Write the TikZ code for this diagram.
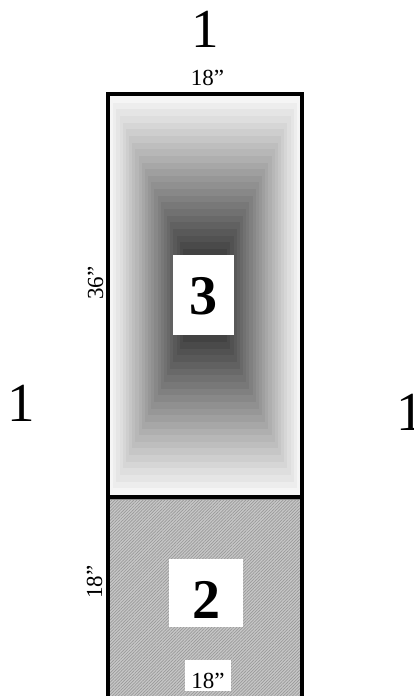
\documentclass[tikz,border=0pt]{standalone}
\usepackage{fontspec}
\setmainfont{Liberation Serif}
\usepackage{tikz}
\usetikzlibrary{patterns.meta}

\begin{document}
\begin{tikzpicture}[x=1pt, y=-1pt,
  frame/.style={line width=3.8pt, black},
  side/.style={anchor=base, inner sep=0pt, font=\fontsize{55}{60}\selectfont},
  dimlabel/.style={anchor=base, inner sep=0pt, font=\fontsize{23}{26}\selectfont},
  tag/.style={fill=white, inner sep=0pt, text depth=0pt,
              font=\fontsize{56}{60}\selectfont\bfseries},
  floor/.style={fill=black!22,
                postaction={pattern={Lines[angle=45, distance=2.2pt, line width=0.7pt]},
                            pattern color=black!40}}
]
  \useasboundingbox (0,0) rectangle (414,696);
  \clip (0,0) rectangle (414,696);

  % upper panel: rectangular gradient, light rim to dark centre
  \foreach \i in {0,...,29} {
    \pgfmathsetmacro\k{min(4+3.05*\i,80)}
    \pgfmathsetmacro\dx{95*\i/30}
    \pgfmathsetmacro\dy{199.5*\i/30}
    \fill[black!\k] ({110+\dx},{96+\dy}) rectangle ({300-\dx},{495-\dy});
  }

  % lower panel
  \fill[floor] (110,499) rectangle (300,700);
  \draw[black!45, line width=0.8pt] (110,499.6) -- (300,499.6);

  % outline
  \draw[frame] (108,700) -- (108,94) -- (302,94) -- (302,700);
  \draw[frame] (108,497) -- (302,497);

  % labels
  \node[side] (top1) at (205,47) {1};
  \node[side] (left1) at (21.5,421) {1};
  \node[side] (right1) at (410.5,430) {1};

  \node[dimlabel] (wtop) at (207.5,85) {18''};
  \node[dimlabel, rotate=90] (hupper) at (103,283) {36''};
  \node[dimlabel, rotate=90] (hlower) at (102,582) {18''};

  \node[tag, minimum width=61pt, minimum height=80pt, text height=38pt] (num3) at (203.5,295) {3};
  \node[tag, minimum width=74pt, minimum height=68pt, text height=51pt] (num2) at (206,593) {2};
  \node[dimlabel, anchor=center, fill=white, minimum width=46pt, minimum height=31pt,
        text height=25.7pt, text depth=0pt] (wbot) at (208,675.5) {18''};
\end{tikzpicture}
\end{document}
